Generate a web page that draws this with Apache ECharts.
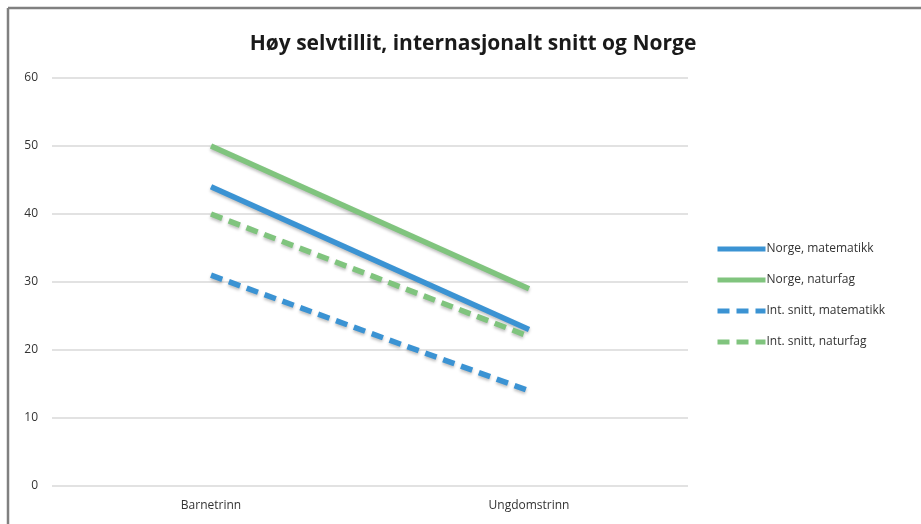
<!DOCTYPE html>
<html><head><meta charset="utf-8">
<script src="https://cdn.jsdelivr.net/npm/echarts@6/dist/echarts.min.js"></script>
<style>html,body{margin:0;padding:0;background:#fff}#c{width:921px;height:524px}</style>
</head><body><div id="c"></div>
<script>
const categories = ['Barnetrinn', 'Ungdomstrinn'];
const norgeMatematikk = [44, 23];
const norgeNaturfag = [50, 29];
const intMatematikk = [31, 14];
const intNaturfag = [40, 22];
const yTicks = [0, 10, 20, 30, 40, 50, 60];

const blue = '#3b93d3';
const green = '#80c47e';
const font = 'Open Sans';
const chart = echarts.init(document.getElementById('c'));
const mk = (name, data, color, dashed) => ({
  name, type: 'line', data, symbol: 'none', smooth: false,
  lineStyle: { color, width: 5.5, type: dashed ? [12, 7] : 'solid', cap: 'butt',
    shadowColor: 'rgba(0,0,0,0.25)', shadowBlur: 3, shadowOffsetY: 2 },
  itemStyle: { color }
});
chart.setOption({
  animation: false,
  graphic: [
    { type: 'line', shape: { x1: 8, y1: 8, x2: 921, y2: 8 }, style: { stroke: '#808080', lineWidth: 2.5 } },
    { type: 'line', shape: { x1: 8, y1: 8, x2: 8, y2: 524 }, style: { stroke: '#808080', lineWidth: 2.5 } }
  ],
  title: { text: 'Høy selvtillit, internasjonalt snitt og Norge', left: 468, textAlign: 'center', top: 29,
    textStyle: { fontFamily: font, fontWeight: 'bold', fontSize: 21, color: '#1a1a1a' } },
  legend: {
    orient: 'vertical', left: 715, top: 243, padding: 0, itemWidth: 48, itemHeight: 12, itemGap: 19,
    itemStyle: { opacity: 0 },
    lineStyle: { width: 5, shadowBlur: 0, shadowOffsetY: 0 },
    textStyle: { fontFamily: font, fontSize: 12, color: '#333333', padding: [0, 0, 0, -4] },
    data: ['Norge, matematikk', 'Norge, naturfag', 'Int. snitt, matematikk', 'Int. snitt, naturfag']
  },
  grid: { left: 52, right: 233, top: 78, bottom: 38, containLabel: false },
  xAxis: {
    type: 'category', data: categories, boundaryGap: true,
    axisLine: { show: false }, axisTick: { show: false },
    axisLabel: { fontFamily: font, fontSize: 12, color: '#333333', margin: 14 }
  },
  yAxis: {
    type: 'value', min: 0, max: 60, interval: 10,
    axisLine: { show: false }, axisTick: { show: false },
    axisLabel: { fontFamily: font, fontSize: 12, color: '#333333', margin: 14,
      formatter: v => yTicks.includes(v) ? String(v) : '' },
    splitLine: { lineStyle: { color: '#d9d9d9', width: 1.5 } }
  },
  series: [
    mk('Norge, matematikk', norgeMatematikk, blue, false),
    mk('Norge, naturfag', norgeNaturfag, green, false),
    mk('Int. snitt, matematikk', intMatematikk, blue, true),
    mk('Int. snitt, naturfag', intNaturfag, green, true)
  ]
});
</script></body></html>
